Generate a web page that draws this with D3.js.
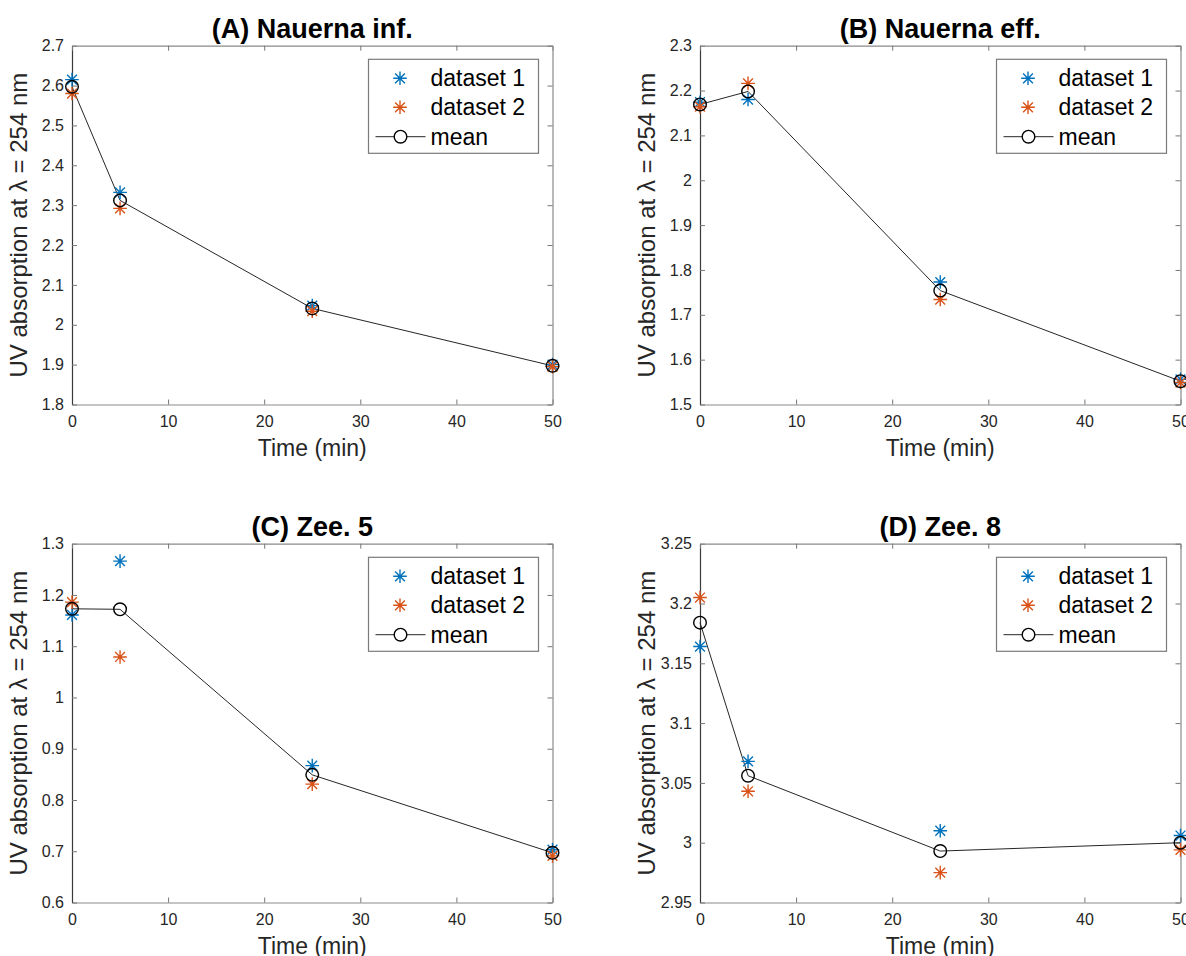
<!DOCTYPE html>
<html>
<head>
<meta charset="utf-8">
<script src="https://cdn.jsdelivr.net/npm/d3@7"></script>
<style>
  html, body { margin: 0; padding: 0; background: #fff; }
  svg { display: block; font-family: "Liberation Sans", Arial, Helvetica, sans-serif; }
</style>
</head>
<body>
<svg id="chart" width="1186" height="956"></svg>
<script>
// ---- data ----
const times = [0, 5, 25, 50];
const xTicks = [0, 10, 20, 30, 40, 50];
const titles = ["(A) Nauerna inf.", "(B) Nauerna eff.", "(C) Zee. 5", "(D) Zee. 8"];
const seriesNames = ["dataset 1", "dataset 2", "mean"];

const dataset1A = [2.615, 2.332, 2.048, 1.900];
const dataset2A = [2.580, 2.292, 2.034, 1.895];
const meanA     = [2.597, 2.312, 2.041, 1.897];
const yTicksA   = [1.8, 1.9, 2.0, 2.1, 2.2, 2.3, 2.4, 2.5, 2.6, 2.7];

const dataset1B = [2.174, 2.180, 1.773, 1.556];
const dataset2B = [2.164, 2.216, 1.734, 1.549];
const meanB     = [2.169, 2.198, 1.754, 1.552];
const yTicksB   = [1.5, 1.6, 1.7, 1.8, 1.9, 2.0, 2.1, 2.2, 2.3];

const dataset1C = [1.161, 1.266, 0.867, 0.703];
const dataset2C = [1.186, 1.079, 0.831, 0.691];
const meanC     = [1.173, 1.172, 0.849, 0.697];
const yTicksC   = [0.6, 0.7, 0.8, 0.9, 1.0, 1.1, 1.2, 1.3];

const dataset1D = [3.164, 3.068, 3.010, 3.006];
const dataset2D = [3.205, 3.043, 2.975, 2.994];
const meanD     = [3.184, 3.056, 2.993, 3.000];
const yTicksD   = [2.95, 3.0, 3.05, 3.1, 3.15, 3.2, 3.25];

const xLabel = "Time (min)";
const yLabel = "UV absorption at \u03BB = 254 nm";

// ---- styling ----
const blue = "#0072BD", orange = "#D95319";
const panels = [
  { title: titles[0], d1: dataset1A, d2: dataset2A, m: meanA, yt: yTicksA, left: 72, top: 45.7 },
  { title: titles[1], d1: dataset1B, d2: dataset2B, m: meanB, yt: yTicksB, left: 700, top: 45.7 },
  { title: titles[2], d1: dataset1C, d2: dataset2C, m: meanC, yt: yTicksC, left: 72, top: 543.7 },
  { title: titles[3], d1: dataset1D, d2: dataset2D, m: meanD, yt: yTicksD, left: 700, top: 543.7 }
];
const W = 480.5, H = 358.8;
const fmt = v => String(+v.toFixed(2));

const svg = d3.select("#chart");

function star(g, cx, cy, color) {
  const r = 6.8, d = r * 0.72;
  const p = `M${cx - r},${cy}L${cx + r},${cy}M${cx},${cy - r}L${cx},${cy + r}` +
            `M${cx - d},${cy - d}L${cx + d},${cy + d}M${cx - d},${cy + d}L${cx + d},${cy - d}`;
  g.append("path").attr("d", p).attr("stroke", color).attr("stroke-width", 1.4).attr("fill", "none");
}

panels.forEach(p => {
  const g = svg.append("g").attr("transform", `translate(${p.left},${p.top})`);
  const x = d3.scaleLinear().domain([0, 50]).range([0, W]);
  const y = d3.scaleLinear().domain([p.yt[0], p.yt[p.yt.length - 1]]).range([H, 0]);

  // axes
  const ax = g.append("g").attr("transform", `translate(0,${H})`)
    .call(d3.axisBottom(x).tickValues(xTicks).tickFormat(fmt).tickSizeInner(-5).tickSizeOuter(0).tickPadding(11));
  const ay = g.append("g")
    .call(d3.axisLeft(y).tickValues(p.yt).tickFormat(fmt).tickSizeInner(-5).tickSizeOuter(0).tickPadding(8));
  const axT = g.append("g")
    .call(d3.axisTop(x).tickValues(xTicks).tickFormat("").tickSizeInner(-5).tickSizeOuter(0));
  const ayR = g.append("g").attr("transform", `translate(${W},0)`)
    .call(d3.axisRight(y).tickValues(p.yt).tickFormat("").tickSizeInner(-5).tickSizeOuter(0));
  [ax, ay, axT, ayR].forEach(a => {
    a.selectAll(".domain").attr("stroke", "#8a8a8a").attr("stroke-width", 1.2);
    a.selectAll(".tick line").attr("stroke", "#777").attr("stroke-width", 1);
    a.selectAll("text").attr("fill", "#262626").style("font-size", "16px");
  });
  ay.select(".domain").attr("stroke", "#3a3a3a");

  // title
  g.append("text").attr("x", W / 2).attr("y", -7.5).attr("text-anchor", "middle")
    .style("font-size", "27px").style("font-weight", "bold").attr("fill", "#000").text(p.title);
  // x label
  g.append("text").attr("x", W / 2).attr("y", H + 52).attr("text-anchor", "middle")
    .style("font-size", "23px").attr("fill", "#262626").text(xLabel);
  // y label
  g.append("text").attr("transform", `translate(${-45},${H / 2}) rotate(-90)`)
    .attr("text-anchor", "middle").style("font-size", "24px").attr("fill", "#262626").text(yLabel);

  // mean line
  const line = d3.line().x((d, i) => x(times[i])).y(d => y(d));
  g.append("path").datum(p.m).attr("d", line).attr("fill", "none")
    .attr("stroke", "#262626").attr("stroke-width", 1);

  // dataset markers
  p.d1.forEach((v, i) => star(g, x(times[i]), y(v), blue));
  p.d2.forEach((v, i) => star(g, x(times[i]), y(v), orange));
  // mean markers
  g.selectAll("circle.mean").data(p.m).enter().append("circle")
    .attr("class", "mean")
    .attr("cx", (d, i) => x(times[i])).attr("cy", d => y(d)).attr("r", 6.3)
    .attr("fill", "none").attr("stroke", "#000").attr("stroke-width", 1.4);

  // legend
  const lg = g.append("g").attr("transform", `translate(${W - 184},13.6)`);
  lg.append("rect").attr("width", 170).attr("height", 94).attr("fill", "#fff")
    .attr("stroke", "#7a7a7a").attr("stroke-width", 1.2);
  const rows = [19, 48, 77.4];
  star(lg, 31.5, rows[0], blue);
  star(lg, 31.5, rows[1], orange);
  lg.append("line").attr("x1", 7).attr("x2", 57).attr("y1", rows[2]).attr("y2", rows[2])
    .attr("stroke", "#262626").attr("stroke-width", 1);
  lg.append("circle").attr("cx", 32).attr("cy", rows[2]).attr("r", 6.3)
    .attr("fill", "#fff").attr("stroke", "#000").attr("stroke-width", 1.4);
  seriesNames.forEach((s, i) => {
    lg.append("text").attr("x", 62).attr("y", rows[i]).attr("dy", "0.35em")
      .style("font-size", "23px").attr("fill", "#000").text(s);
  });
});
</script>
</body>
</html>
